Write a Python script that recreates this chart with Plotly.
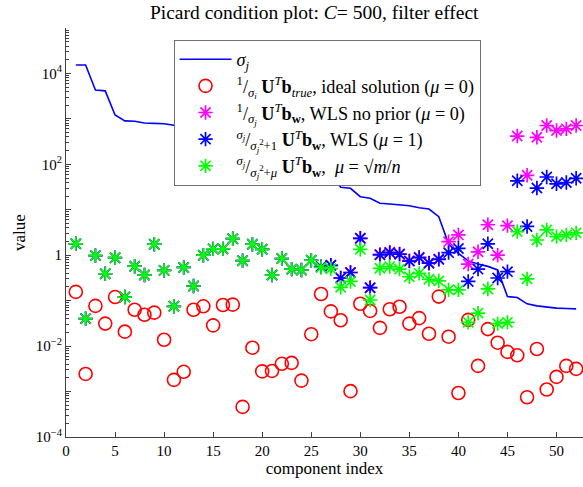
import plotly.graph_objects as go

idx = list(range(1, 53))

sigma = [15300, 15300, 4320, 4140, 1220, 906, 887, 814, 797, 780,
         724, 631, 550, 479, 398, 347, 302, 251, 219, 182,
         158, 132, 115, 98, 87, 76, 65, 31.3, 29.7, 19.4,
         17.9, 13.9, 13.4, 12.9, 12.3, 11.1, 10.4, 7.05, 1.77, 1.10,
         0.75, 0.644, 0.568, 0.475, 0.123, 0.117, 0.085, 0.0769, 0.0713, 0.0684,
         0.067, 0.066]

ideal = [0.156, 0.00244, 0.0767, 0.0313, 0.120, 0.0208, 0.0632, 0.0490, 0.0545, 0.0138,
         0.00181, 0.00272, 0.0632, 0.0752, 0.0286, 0.0802, 0.0818, 0.00046, 0.00923, 0.00278,
         0.00284, 0.00408, 0.00427, 0.00174, 0.0183, 0.140, 0.0581, 0.0371, 0.00102, 0.0855,
         0.0594, 0.0252, 0.0647, 0.0736, 0.0313, 0.0413, 0.0187, 0.123, 0.0161, 0.00093,
         0.0378, 0.00367, 0.0237, 0.0119, 0.00745, 0.00627, 0.00075, 0.00865, 0.00111, 0.00210,
         0.00367, 0.00316]

wls_noprior = [1.785, 0.0403, 0.980, 0.391, 0.881, 0.120, 0.574, 0.366, 1.747, 0.463,
               0.0752, 0.538, 0.210, 1.00, 1.38, 1.38, 2.31, 0.758, 1.747, 1.35,
               0.366, 0.844, 0.494, 0.473, 0.775, 0.562, 0.600, 0.315, 0.417, 2.36,
               0.193, 1.04, 1.16, 1.07, 0.758, 0.899, 0.68, 0.825, 1.99, 2.80,
               0.640, 1.19, 4.68, 1.00, 4.48, 419, 57.3, 393, 716, 554,
               603, 716]

wls_mu1 = [1.785, 0.0403, 0.980, 0.391, 0.881, 0.120, 0.574, 0.366, 1.747, 0.463,
           0.0752, 0.538, 0.210, 1.00, 1.38, 1.38, 2.31, 0.758, 1.747, 1.35,
           0.366, 0.844, 0.494, 0.473, 0.775, 0.562, 0.600, 0.315, 0.417, 2.36,
           0.193, 1.02, 1.14, 1.05, 0.743, 0.881, 0.667, 0.809, 1.14, 1.41,
           0.265, 0.494, 1.785, 0.315, 0.435, 43.4, 4.30, 30.1, 52.6, 37.3,
           39.8, 49.3]

wls_mu = [1.785, 0.0403, 0.980, 0.391, 0.881, 0.120, 0.574, 0.366, 1.747, 0.463,
          0.0752, 0.538, 0.210, 1.00, 1.38, 1.38, 2.31, 0.758, 1.747, 1.35,
          0.366, 0.844, 0.494, 0.473, 0.775, 0.538, 0.505, 0.197, 0.265, 1.35,
          0.1035, 0.516, 0.562, 0.494, 0.336, 0.399, 0.296, 0.272, 0.173, 0.173,
          0.0333, 0.0533, 0.181, 0.0313, 0.0333, 3.32, 0.302, 2.165, 3.61, 2.57,
          2.80, 3.11]

x_ticks = [0, 5, 10, 15, 20, 25, 30, 35, 40, 45, 50]
y_tickvals = [1e-4, 1e-3, 1e-2, 1e-1, 1, 10, 100, 1e3, 1e4, 1e5]
y_ticktext = ["10<sup>−4</sup>", "", "10<sup>−2</sup>", "", "1", "",
              "10<sup>2</sup>", "", "10<sup>4</sup>", ""]

FONT = "Liberation Serif"
AX = "#404040"

fig = go.Figure()
fig.add_trace(go.Scatter(
    x=idx, y=sigma, mode="lines", name="<i>σ<sub>j</sub></i>",
    line=dict(color="#0000ff", width=1.6), cliponaxis=False))
fig.add_trace(go.Scatter(
    x=idx, y=ideal, mode="markers",
    name="<sup>1</sup>/<sub><i>σ<sub>i</sub></i></sub> <b>U</b><sup><i>T</i></sup><b>b</b><sub><i>true</i></sub>, ideal solution (<i>μ</i> = 0)",
    marker=dict(symbol="circle-open", size=13, color="#ff0000", line=dict(width=1.6, color="#ff0000")),
    cliponaxis=False))
fig.add_trace(go.Scatter(
    x=idx, y=wls_noprior, mode="markers",
    name="<sup>1</sup>/<sub><i>σ<sub>j</sub></i></sub> <b>U</b><sup><i>T</i></sup><b>b</b><sub><b>w</b></sub>, WLS no prior (<i>μ</i> = 0)",
    marker=dict(symbol="asterisk-open", size=12, color="#ff00ff", line=dict(width=1.7, color="#ff00ff")),
    cliponaxis=False))
fig.add_trace(go.Scatter(
    x=idx, y=wls_mu1, mode="markers",
    name="<sup><i>σ<sub>j</sub></i></sup>/<sub><i>σ<sub>j</sub></i><sup>2</sup>+1</sub> <b>U</b><sup><i>T</i></sup><b>b</b><sub><b>w</b></sub>, WLS (<i>μ</i> = 1)",
    marker=dict(symbol="asterisk-open", size=12, color="#0000ff", line=dict(width=1.7, color="#0000ff")),
    cliponaxis=False))
fig.add_trace(go.Scatter(
    x=idx, y=wls_mu, mode="markers",
    name="<sup><i>σ<sub>j</sub></i></sup>/<sub><i>σ<sub>j</sub></i><sup>2</sup>+<i>μ</i></sub> <b>U</b><sup><i>T</i></sup><b>b</b><sub><b>w</b></sub>,  <i>μ</i> = √<i>m</i>/<i>n</i>",
    marker=dict(symbol="asterisk-open", size=12, color="#00ff00", line=dict(width=1.7, color="#00ff00")),
    cliponaxis=False))

fig.update_layout(
    width=583, height=487,
    margin=dict(l=66, r=0, t=28, b=50),
    paper_bgcolor="white", plot_bgcolor="white",
    font=dict(family=FONT, size=15, color="black"),
    title=dict(text="Picard condition plot: <i>C</i>= 500, filter effect",
               x=0.539, xanchor="center", y=0.975, yanchor="middle",
               font=dict(family=FONT, size=19.5, color="black")),
    showlegend=True,
    legend=dict(x=0.208, y=0.971, xanchor="left", yanchor="top",
                bgcolor="white", bordercolor="#707070", borderwidth=1,
                font=dict(family=FONT, size=18.2, color="black"),
                itemwidth=52, tracegroupgap=0),
)
fig.update_xaxes(
    range=[0, 52.7], tickvals=x_ticks, ticks="inside", ticklen=5,
    tickcolor=AX, showline=True, linecolor=AX, linewidth=1, showgrid=False,
    zeroline=False, automargin=False,
    title=dict(text="component index", font=dict(size=17), standoff=3),
    tickfont=dict(size=15))
fig.update_yaxes(
    type="log", range=[-4, 5], tickvals=y_tickvals, ticktext=y_ticktext,
    ticks="inside", ticklen=5, tickcolor=AX, showline=True, linecolor=AX,
    linewidth=1, showgrid=False, zeroline=False, automargin=False,
    minor=dict(ticks="inside", ticklen=3, tickcolor=AX, dtick="D1", showgrid=False),
    title=dict(text="value", font=dict(size=17), standoff=5),
    tickfont=dict(size=15))

fig.write_html("out.html", config={"displayModeBar": False},
               post_script="document.body.style.margin='0';document.body.style.overflow='hidden';")
